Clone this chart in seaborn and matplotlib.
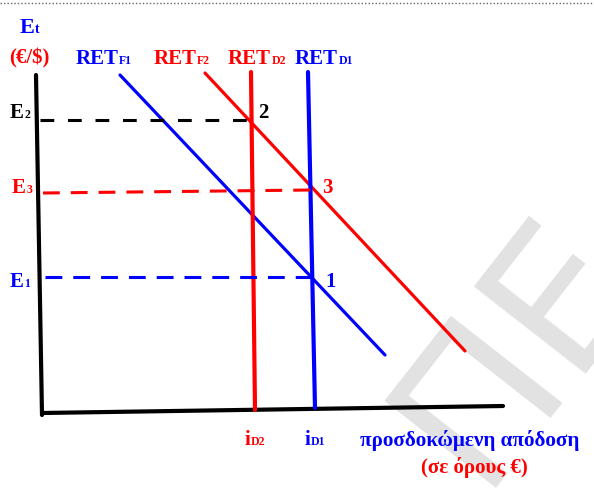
import numpy as np
import pandas as pd
import seaborn as sns
import matplotlib.pyplot as plt

# diagram drawn in pixel space of the original picture (x right, y down)
blue = '#0000ff'
red = '#ff0000'

axis_y_x = [36, 42]
axis_y_y = [75, 415]
axis_x_x = [42, 503]
axis_x_y = [413, 406]

ret_f1_x = [120, 385]
ret_f1_y = [75, 355]
ret_f2_x = [205, 465]
ret_f2_y = [73, 351]
ret_d2_x = [251, 255]
ret_d2_y = [72, 410]
ret_d1_x = [308, 315]
ret_d1_y = [72, 408]

e2_x = [40, 252]
e2_y = [120, 120]
e3_x = [43, 311]
e3_y = [193, 190]
e1_x = [45, 311]
e1_y = [277, 277]

sns.set_style('white')
plt.rcParams['font.family'] = ['Liberation Serif', 'DejaVu Serif']

fig = plt.figure(figsize=(5.94, 4.94), dpi=100)
ax = fig.add_axes([0, 0, 1, 1])

# watermark
ax.text(478, 488, 'ΠΕ', fontsize=140, color='#e2e2e2', rotation=52,
        family='DejaVu Sans', ha='left', va='baseline', zorder=0,
        rotation_mode='anchor')

ax.plot([0, 594], [3, 3], color='#666666', lw=1, ls=(0, (1, 1.5)))

def seg(x, y, color, lw, ls='-'):
    sns.lineplot(x=x, y=y, sort=False, estimator=None, color=color,
                 lw=lw, linestyle=ls, ax=ax, legend=False)

seg(axis_y_x, axis_y_y, 'black', 3)
seg(axis_x_x, axis_x_y, 'black', 3)
seg(ret_f1_x, ret_f1_y, blue, 2.3)
seg(ret_f2_x, ret_f2_y, red, 2.3)
seg(ret_d2_x, ret_d2_y, red, 3)
seg(ret_d1_x, ret_d1_y, blue, 3)
seg(e2_x, e2_y, 'black', 2.2, (0, (4.5, 4.5)))
seg(e3_x, e3_y, red, 2.2, (0, (5.5, 3.6)))
seg(e1_x, e1_y, blue, 2.2, (0, (5.5, 3.6)))

def label(x, y, main, sub, color, size=15, subsize=8.5):
    t = ax.text(x, y, main, color=color, fontsize=size, fontweight='bold',
                ha='left', va='baseline')
    if sub:
        ax.annotate(sub, xy=(1, 0), xycoords=t, xytext=(0.2, 1.4),
                    textcoords='offset points', color=color,
                    fontsize=subsize, fontweight='bold', ha='left', va='bottom')

label(20, 33, 'E', 't', blue, 16, 10)
label(9, 63, '(€/$)', None, red, 15)
label(76, 64, 'RET', 'F1', blue)
label(154, 64, 'RET', 'F2', red)
label(228, 64, 'RET', 'D2', red)
label(295, 64, 'RET', 'D1', blue)
label(10, 118, 'E', '2', 'black')
label(12, 193, 'E', '3', red)
label(10, 287, 'E', '1', blue)
label(258, 118, '2', None, 'black')
label(322, 193, '3', None, red)
label(325, 287, '1', None, blue)
label(245, 445, 'i', 'D2', red)
label(305, 445, 'i', 'D1', blue)
label(360, 446, 'προσδοκώμενη απόδοση', None, blue, 15.2)
label(421, 473, '(σε όρους €)', None, red, 15)

ax.set_xlim(0, 594)
ax.set_ylim(494, 0)
ax.axis('off')
fig.savefig('out.png', dpi=100)
